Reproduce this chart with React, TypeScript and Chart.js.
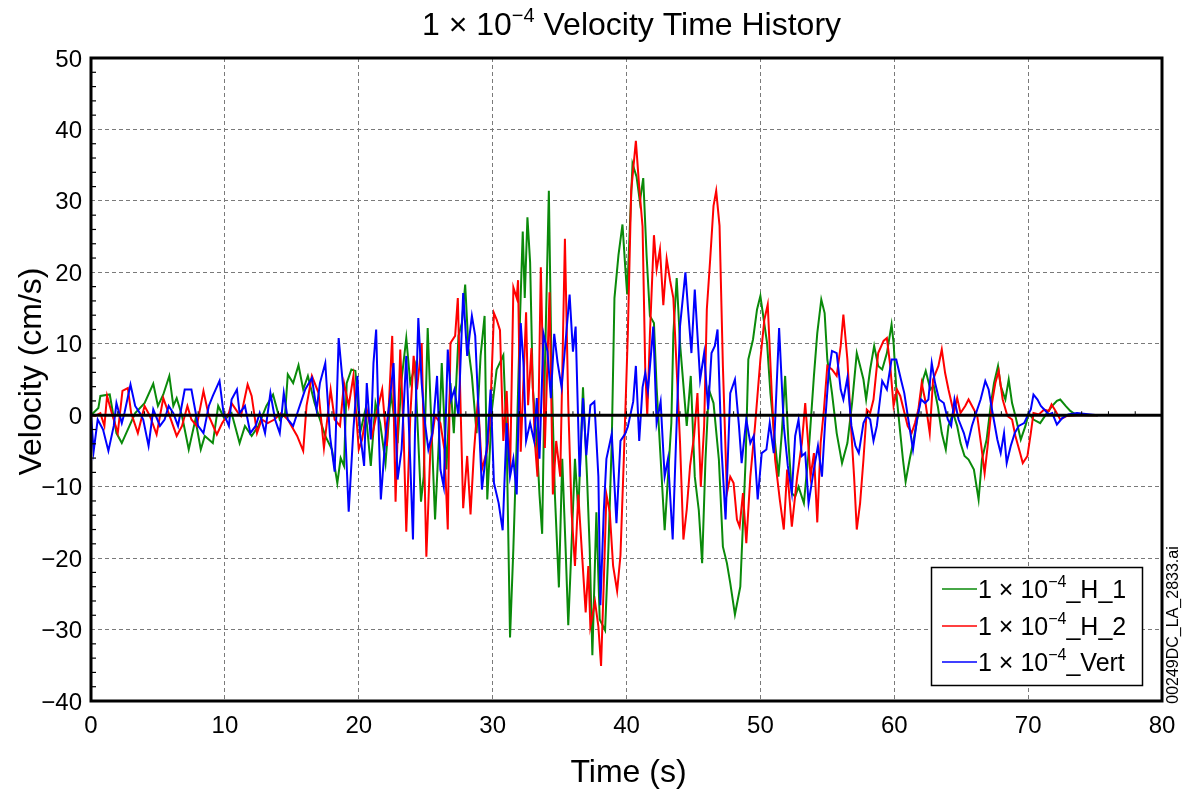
import React, { useEffect, useRef } from "react";
import { Chart, registerables } from "chart.js";

Chart.register(...registerables);

// ---- Data (time in s, velocity in cm/s) ----
const xTicks = [0, 10, 20, 30, 40, 50, 60, 70, 80];
const yTicks = [-40, -30, -20, -10, 0, 10, 20, 30, 40, 50];
const seriesNames = ["_H_1", "_H_2", "_Vert"];

const h1Points: [number, number][] = [
  [0,0],[0.55,1.0],[0.7,2.7],[1.4,2.9],[1.9,-2.5],[2.3,-3.9],[3.3,0.3],[4.0,1.7],[4.65,4.4],[5.0,1.3],[5.4,2.9],[5.85,5.5],[6.15,1.3],[6.4,2.4],[6.8,-0.1],[7.3,-4.8],[7.8,-0.6],[8.2,-4.8],[8.5,-2.9],[9.1,-3.9],[9.5,1.3],[10.0,-0.6],[10.5,0.3],[11.1,-3.9],[11.5,-1.5],[12.0,-2.9],[12.5,-1.5],[13.1,1.3],[13.6,2.9],[14.1,-0.6],[14.5,0.3],[14.7,5.7],[15.1,4.5],[15.5,7.0],[15.85,3.6],[16.2,5.5],[16.7,1.7],[17.1,-0.6],[17.5,-2.9],[18.0,-4.8],[18.4,-9.5],[18.65,-6.0],[18.9,-7.1],[19.1,4.5],[19.45,6.4],[19.75,6.2],[20.1,-2.5],[20.5,0.8],[20.9,-7.1],[21.25,1.7],[21.6,-1.1],[22.0,-6.7],[22.4,3.1],[22.9,-3.9],[23.2,5.0],[23.55,10.8],[23.85,4.5],[24.2,6.9],[24.65,-12.1],[24.85,-8.6],[25.15,12.2],[25.35,2.2],[25.7,-14.6],[26.0,-2.9],[26.2,7.3],[26.55,-7.6],[26.85,4.5],[27.1,-2.5],[27.45,11.1],[27.7,12.9],[27.95,18.3],[28.2,9.2],[28.45,5.5],[28.8,-2.5],[29.1,8.3],[29.4,13.9],[29.6,-11.8],[29.95,0.8],[30.3,6.4],[30.55,7.4],[30.8,8.4],[31.05,-3.6],[31.3,-31.1],[31.55,-18.6],[31.8,-3.6],[32.05,13.9],[32.25,25.7],[32.4,16.4],[32.6,27.7],[32.8,21.4],[33.0,3.9],[33.3,-3.6],[33.5,-11.1],[33.7,-16.6],[33.9,6.4],[34.2,31.4],[34.4,6.4],[34.65,-11.1],[34.95,-24.1],[35.2,-6.1],[35.45,-18.6],[35.65,-29.4],[35.8,-22.6],[36.15,-6.1],[36.4,-13.6],[36.75,3.9],[37.05,-8.6],[37.25,-18.6],[37.45,-33.6],[37.75,-13.6],[38.0,-28.6],[38.4,-30.1],[38.65,-18.6],[38.9,-3.6],[39.1,16.4],[39.4,22.4],[39.7,26.7],[39.9,20.9],[40.05,16.9],[40.25,26.4],[40.45,35.2],[40.75,33.4],[41.0,29.9],[41.25,33.2],[41.5,22.4],[41.75,13.9],[42.05,12.9],[42.25,3.9],[42.55,-6.1],[42.85,-16.1],[43.1,-8.6],[43.35,-1.1],[43.5,11.4],[43.75,19.2],[44.0,10.0],[44.3,3.1],[44.5,-1.5],[44.8,5.5],[45.1,-8.6],[45.4,-13.3],[45.65,-20.7],[45.9,-6.2],[46.15,3.6],[46.5,1.7],[46.9,-6.2],[47.2,-18.4],[47.5,-20.7],[47.75,-23.5],[48.1,-27.9],[48.5,-24.0],[48.9,-6.2],[49.1,7.8],[49.45,10.6],[49.75,14.8],[50.0,16.7],[50.25,13.4],[50.5,10.1],[50.75,3.1],[51.1,-3.9],[51.35,-8.6],[51.6,-2.5],[51.85,5.5],[52.1,-3.9],[52.35,-10.9],[52.6,-11.4],[52.85,-10.0],[53.25,-12.3],[53.6,-5.3],[54.0,5.5],[54.25,11.5],[54.55,16.2],[54.8,14.3],[55.0,7.8],[55.35,3.1],[55.7,-2.5],[56.1,-6.7],[56.5,-3.9],[56.85,1.7],[57.2,8.7],[57.45,6.9],[57.7,5.0],[57.9,2.2],[58.2,6.4],[58.5,9.7],[58.8,6.9],[59.1,6.4],[59.45,8.7],[59.8,12.7],[59.95,10.1],[60.2,2.2],[60.45,-2.5],[60.65,-6.2],[60.85,-9.3],[61.15,-6.2],[61.45,-3.4],[61.8,0.3],[62.15,5.0],[62.35,6.2],[62.7,3.6],[62.95,4.1],[63.25,1.3],[63.55,-2.5],[63.85,-4.8],[64.05,-1.5],[64.4,0.3],[64.7,-1.5],[64.95,-3.9],[65.25,-5.7],[65.55,-6.2],[65.95,-7.6],[66.15,-10.0],[66.3,-11.8],[66.55,-6.2],[66.9,-3.4],[67.2,1.3],[67.45,4.5],[67.75,6.9],[67.95,4.1],[68.3,2.2],[68.55,5.0],[68.8,1.7],[69.05,-0.1],[69.45,-3.4],[69.8,-1.5],[70.05,0.3],[70.4,-0.6],[70.9,-1.1],[71.4,0.3],[71.8,1.3],[72.15,2.0],[72.4,2.2],[72.8,1.3],[73.15,0.6],[73.55,0.1],[74.4,0],[75.2,0]
];

const h2Points: [number, number][] = [
  [0,0],[0.3,-0.1],[0.7,0.3],[1.0,-1.5],[1.2,2.7],[1.55,0.3],[2.0,-2.5],[2.35,3.4],[2.75,3.8],[3.0,0.3],[3.5,-2.5],[4.0,1.3],[4.4,-0.1],[4.9,-2.7],[5.4,2.4],[5.8,0.3],[6.4,-2.9],[6.8,-1.5],[7.2,1.3],[7.5,-0.6],[7.9,-1.5],[8.4,3.4],[8.8,-0.1],[9.4,-2.7],[9.8,-1.1],[10.3,0.3],[10.5,1.7],[11.0,0.3],[11.2,-0.1],[11.7,4.3],[12.0,2.7],[12.4,-2.5],[12.75,-0.6],[13.2,-1.1],[13.7,-0.6],[14.2,0.3],[14.7,-0.6],[15.4,-2.9],[15.85,-5.0],[16.1,1.3],[16.5,5.5],[17.0,3.1],[17.4,-4.6],[17.9,3.6],[18.2,-0.6],[18.6,-1.5],[18.9,4.5],[19.25,1.3],[19.6,5.5],[20.0,-4.8],[20.25,-3.4],[20.6,0.8],[21.0,-2.9],[21.4,0.8],[21.75,3.6],[22.1,-4.3],[22.5,11.1],[22.75,-12.1],[23.1,9.2],[23.35,-2.5],[23.55,-16.3],[23.85,-0.1],[24.1,8.3],[24.35,3.6],[24.7,10.1],[25.05,-19.8],[25.35,-4.8],[25.7,-0.1],[26.1,-1.1],[26.4,-4.8],[26.65,-16.0],[26.85,10.1],[27.2,11.1],[27.4,16.4],[27.7,-5.7],[27.8,-13.0],[28.1,-5.7],[28.35,-13.9],[28.6,-5.3],[28.9,2.2],[29.2,-7.6],[29.6,-4.8],[29.8,-0.6],[30.1,14.3],[30.3,13.4],[30.55,11.9],[30.8,-3.6],[31.05,3.4],[31.3,-8.6],[31.55,17.9],[31.8,16.4],[31.9,18.9],[32.1,-5.1],[32.5,14.4],[32.65,1.4],[32.9,9.4],[33.15,-3.6],[33.35,-8.6],[33.6,20.7],[33.9,-4.6],[34.25,17.2],[34.5,-11.1],[34.75,-3.6],[35.05,-8.6],[35.4,24.7],[35.65,1.4],[35.9,-13.6],[36.15,-21.1],[36.4,-11.1],[36.65,-18.6],[36.95,-27.6],[37.15,-21.1],[37.3,-29.6],[37.65,-26.1],[37.9,-29.6],[38.1,-35.1],[38.3,-23.6],[38.5,-11.1],[38.75,-13.6],[39.0,-21.1],[39.3,-24.6],[39.55,-19.6],[39.8,-6.1],[40.1,11.4],[40.35,31.4],[40.7,38.4],[40.95,31.9],[41.2,26.4],[41.4,6.4],[41.55,-0.1],[41.75,11.4],[42.05,25.2],[42.25,20.4],[42.5,23.2],[42.75,15.4],[43.0,21.9],[43.25,18.9],[43.5,16.4],[43.75,6.4],[44.0,-3.9],[44.25,-17.4],[44.5,-13.2],[44.75,-7.1],[45.05,-2.9],[45.3,3.1],[45.55,-10.0],[45.8,-1.5],[46.0,14.8],[46.25,21.8],[46.5,29.3],[46.7,31.4],[46.95,26.5],[47.2,6.9],[47.5,-10.9],[47.75,-8.6],[48.0,-9.5],[48.25,-14.6],[48.45,-15.6],[48.7,-10.9],[48.95,-17.9],[49.25,-8.6],[49.6,-1.5],[50.0,7.8],[50.3,13.4],[50.55,15.5],[50.85,3.1],[51.1,-6.2],[51.45,-11.8],[51.75,-16.0],[52.0,-7.6],[52.35,-15.6],[52.75,-8.6],[53.1,-3.9],[53.35,1.7],[53.75,-8.6],[54.0,-5.3],[54.25,-15.0],[54.5,-3.9],[54.75,0.8],[55.0,6.9],[55.35,6.4],[55.7,5.5],[56.0,9.7],[56.2,14.1],[56.5,7.8],[56.8,-2.5],[57.0,-8.6],[57.2,-16.0],[57.45,-12.3],[57.7,-6.2],[57.95,0.8],[58.2,0.3],[58.45,2.2],[58.8,8.7],[59.2,10.4],[59.45,10.8],[59.7,6.9],[59.95,1.3],[60.2,3.6],[60.45,2.7],[60.7,0.8],[61.0,-1.5],[61.3,-2.5],[61.55,-1.1],[61.8,0.8],[62.05,4.5],[62.3,2.2],[62.65,-2.5],[62.9,5.0],[63.3,6.9],[63.55,9.2],[63.8,5.9],[64.05,3.6],[64.45,0.3],[64.7,2.4],[64.95,0.3],[65.3,1.3],[65.55,2.2],[65.95,0.8],[66.2,-0.1],[66.5,-4.3],[66.75,-8.1],[67.0,-3.9],[67.3,1.7],[67.55,4.5],[67.8,6.2],[68.1,2.2],[68.45,-0.1],[68.8,-0.6],[69.05,-2.9],[69.4,-5.3],[69.6,-6.7],[69.95,-5.7],[70.2,-2.5],[70.4,0.3],[70.8,0.1],[71.2,0.8],[71.55,0.6],[71.75,1.5],[72.05,0.6],[72.4,-0.6],[72.9,-0.1],[73.65,0],[75.2,0]
];

const vertPoints: [number, number][] = [
  [0,0],[0.2,-5.0],[0.5,-0.6],[0.9,-2.0],[1.3,-5.0],[1.7,-1.5],[1.9,1.7],[2.3,-1.1],[2.5,0.3],[2.95,4.3],[3.3,1.3],[3.65,0.3],[3.9,-0.6],[4.3,-4.3],[4.65,0.8],[5.15,-1.5],[5.5,-0.6],[5.8,1.3],[6.15,0.3],[6.5,-1.5],[7.0,3.6],[7.5,3.6],[8.0,-1.5],[8.4,-2.5],[8.8,1.3],[9.1,2.7],[9.6,4.8],[9.9,0.3],[10.3,-1.5],[10.5,2.2],[10.9,3.6],[11.1,0.3],[11.5,1.3],[11.9,-2.5],[12.3,-1.5],[12.6,0.3],[13.0,-2.5],[13.4,3.1],[13.75,-0.6],[14.1,-2.5],[14.4,3.1],[14.7,-0.6],[15.1,-1.5],[15.5,0.8],[16.0,3.6],[16.5,5.2],[16.85,0.8],[17.1,4.5],[17.5,7.3],[17.85,-2.9],[18.2,-7.9],[18.5,10.8],[18.85,3.6],[19.25,-13.5],[19.6,-2.0],[19.9,5.5],[20.1,-2.5],[20.4,-7.1],[20.6,4.5],[20.9,-3.4],[21.1,7.3],[21.3,12.0],[21.5,-2.5],[21.65,-11.8],[22.0,-2.9],[22.4,3.6],[22.6,7.3],[22.9,-9.0],[23.2,-4.8],[23.55,8.3],[23.85,-6.7],[24.05,-17.4],[24.2,-2.5],[24.45,13.6],[24.7,4.5],[24.95,-1.1],[25.2,-4.8],[25.5,-2.5],[25.85,5.5],[26.1,-7.6],[26.35,-10.0],[26.65,9.2],[26.9,2.2],[27.15,3.6],[27.45,-0.1],[27.8,17.1],[28.1,8.3],[28.45,13.9],[28.7,11.1],[28.95,0.3],[29.2,-10.4],[29.6,-3.9],[29.85,3.6],[30.1,-9.5],[30.45,-12.3],[30.75,-16.1],[31.05,-1.1],[31.3,-8.6],[31.55,-6.1],[31.8,-11.1],[32.1,12.9],[32.3,7.4],[32.5,-3.6],[32.8,-1.1],[33.1,-3.6],[33.3,2.4],[33.5,-6.1],[33.8,11.4],[34.1,8.9],[34.35,2.4],[34.6,11.4],[34.85,7.4],[35.15,3.9],[35.5,11.4],[35.75,16.9],[36.0,8.9],[36.2,12.4],[36.5,-8.6],[36.75,2.4],[37.0,-5.6],[37.3,1.4],[37.6,1.9],[37.9,-8.6],[38.05,-26.6],[38.3,-13.6],[38.5,-6.1],[38.9,-2.6],[39.25,-15.1],[39.55,-3.6],[39.9,-2.6],[40.1,-1.6],[40.5,1.9],[40.7,6.9],[40.95,-3.6],[41.2,3.9],[41.4,5.9],[41.6,3.4],[42.0,12.4],[42.25,-1.1],[42.55,1.9],[42.85,-8.6],[43.1,-6.1],[43.45,-17.4],[43.7,-3.6],[44.0,12.5],[44.4,20.0],[44.6,14.8],[44.85,8.7],[45.1,17.6],[45.5,5.0],[45.8,8.7],[46.1,0.8],[46.35,8.7],[46.6,9.7],[46.8,12.0],[47.1,-4.8],[47.4,-14.6],[47.75,3.1],[48.1,5.0],[48.4,-1.5],[48.6,-6.7],[48.95,-0.6],[49.25,-3.9],[49.5,-2.9],[49.8,-11.8],[50.1,-5.3],[50.45,-4.8],[50.7,-1.1],[51.0,-5.3],[51.4,12.2],[51.75,-1.5],[52.05,-7.1],[52.35,-10.9],[52.6,-2.9],[52.85,-0.6],[53.1,-5.7],[53.35,-5.3],[53.6,-12.3],[53.95,-8.1],[54.3,-4.3],[54.6,-8.6],[54.85,-0.6],[55.1,5.9],[55.35,9.0],[55.7,8.7],[56.0,3.6],[56.2,2.2],[56.5,5.2],[56.8,-1.5],[57.1,-4.3],[57.35,-5.3],[57.7,-1.1],[57.95,-0.1],[58.2,-0.6],[58.45,-3.6],[58.7,-1.5],[59.1,4.8],[59.45,3.6],[59.8,7.8],[60.15,7.8],[60.5,5.0],[60.75,3.1],[61.05,-0.6],[61.4,-4.8],[61.7,-0.6],[62.0,2.2],[62.3,1.7],[62.55,2.2],[62.8,7.3],[63.05,4.5],[63.35,2.2],[63.7,1.7],[64.0,-0.6],[64.25,-1.5],[64.5,2.2],[64.8,-0.6],[65.2,-2.5],[65.45,-4.3],[65.8,-1.5],[66.2,0.8],[66.45,2.2],[66.8,4.8],[67.05,3.6],[67.3,0.8],[67.7,-3.4],[67.95,-5.3],[68.2,-2.5],[68.4,-6.7],[68.7,-4.3],[69.0,-2.5],[69.3,-1.5],[69.7,-1.1],[69.95,-0.1],[70.2,0.8],[70.4,2.9],[70.7,2.2],[70.95,1.3],[71.2,0.8],[71.55,0.1],[71.8,0.3],[72.15,-1.3],[72.55,-0.4],[73.0,0.1],[73.65,0.3],[74.65,0.1],[75.2,0]
];

const FONT = "'Liberation Sans', Arial, Helvetica, sans-serif";
const COLORS = ["#0a8a0a", "#ff0000", "#0000ff"];

function drawSupText(
  ctx: CanvasRenderingContext2D,
  parts: { t: string; size: number; dy: number }[],
  x: number,
  y: number,
  align: "left" | "center"
) {
  let total = 0;
  const widths = parts.map((p) => {
    ctx.font = `${p.size}px ${FONT}`;
    const w = ctx.measureText(p.t).width;
    total += w;
    return w;
  });
  let cx = align === "center" ? x - total / 2 : x;
  ctx.textAlign = "left";
  ctx.textBaseline = "alphabetic";
  parts.forEach((p, i) => {
    ctx.font = `${p.size}px ${FONT}`;
    ctx.fillText(p.t, cx, y + p.dy);
    cx += widths[i];
  });
}

const decorPlugin = {
  id: "decor",
  afterDatasetsDraw(chart: any) {
    const { ctx, chartArea, scales } = chart;
    const { left, right, top, bottom } = chartArea;
    const xs = scales.x;
    const ys = scales.y;
    ctx.save();
    // zero line
    const y0 = ys.getPixelForValue(0);
    ctx.strokeStyle = "#000";
    ctx.lineWidth = 3;
    ctx.beginPath();
    ctx.moveTo(left, y0);
    ctx.lineTo(right, y0);
    ctx.stroke();
    // minor ticks on zero line
    ctx.lineWidth = 1;
    for (let t = 2; t < 80; t += 2) {
      const px = xs.getPixelForValue(t);
      ctx.beginPath();
      ctx.moveTo(px, y0);
      ctx.lineTo(px, y0 - 4);
      ctx.stroke();
    }
    // minor ticks on left axis
    ctx.lineWidth = 1.2;
    for (let v = -38; v < 50; v += 2) {
      if (v % 10 === 0) continue;
      const py = ys.getPixelForValue(v);
      ctx.beginPath();
      ctx.moveTo(left, py);
      ctx.lineTo(left + 5, py);
      ctx.stroke();
    }
    // frame
    ctx.lineWidth = 3;
    ctx.strokeRect(left, top, right - left, bottom - top);
    ctx.restore();
  },
  afterDraw(chart: any) {
    const { ctx, chartArea, scales } = chart;
    const xs = scales.x;
    const ys = scales.y;
    ctx.save();
    ctx.fillStyle = "#000";
    // title
    drawSupText(
      ctx,
      [
        { t: "1 × 10", size: 32, dy: 0 },
        { t: "−4", size: 20, dy: -13 },
        { t: " Velocity Time History", size: 32, dy: 0 },
      ],
      (chartArea.left + chartArea.right) / 2 + 5,
      35,
      "center"
    );
    // y tick labels
    ctx.font = `24px ${FONT}`;
    ctx.textAlign = "right";
    ctx.textBaseline = "alphabetic";
    yTicks.forEach((v) => {
      const py = ys.getPixelForValue(v);
      ctx.fillText(String(v).replace("-", "−"), 82, py + 8.5);
    });
    // x tick labels
    ctx.textAlign = "center";
    xTicks.forEach((t) => {
      const px = xs.getPixelForValue(t);
      ctx.fillText(String(t), px, 733);
    });
    // axis titles
    ctx.font = `32px ${FONT}`;
    ctx.textAlign = "center";
    ctx.fillText("Time (s)", (chartArea.left + chartArea.right) / 2 + 2, 782);
    ctx.save();
    ctx.translate(41, (chartArea.top + chartArea.bottom) / 2 - 8);
    ctx.rotate(-Math.PI / 2);
    ctx.textBaseline = "alphabetic";
    ctx.fillText("Velocity (cm/s)", 0, 0);
    ctx.restore();
    // side file label
    ctx.save();
    ctx.translate(1178, 625);
    ctx.rotate(-Math.PI / 2);
    ctx.font = `16px ${FONT}`;
    ctx.textAlign = "center";
    ctx.textBaseline = "alphabetic";
    ctx.fillText("00249DC_LA_2833.ai", 0, 0);
    ctx.restore();
    // legend
    const lx = 931, ly = 567, lw = 211, lh = 118;
    ctx.fillStyle = "#fff";
    ctx.fillRect(lx, ly, lw, lh);
    ctx.strokeStyle = "#000";
    ctx.lineWidth = 1.5;
    ctx.strokeRect(lx + 0.5, ly + 0.5, lw, lh);
    const rows = [589, 626, 662];
    seriesNames.forEach((name, i) => {
      ctx.strokeStyle = COLORS[i];
      ctx.lineWidth = 1.5;
      ctx.beginPath();
      ctx.moveTo(942, rows[i]);
      ctx.lineTo(977, rows[i]);
      ctx.stroke();
      ctx.fillStyle = "#000";
      drawSupText(
        ctx,
        [
          { t: "1 × 10", size: 25, dy: 0 },
          { t: "−4", size: 16, dy: -11 },
          { t: name, size: 25, dy: 0 },
        ],
        978,
        rows[i] + 9,
        "left"
      );
    });
    ctx.restore();
  },
};

export default function App() {
  const canvasRef = useRef<HTMLCanvasElement | null>(null);

  useEffect(() => {
    const canvas = canvasRef.current;
    if (!canvas) return;
    const toXY = (pts: [number, number][]) => pts.map(([x, y]) => ({ x, y }));
    const chart = new Chart(canvas, {
      type: "line",
      data: {
        datasets: [
          { label: "H_1", data: toXY(h1Points), borderColor: COLORS[0], order: 3 },
          { label: "H_2", data: toXY(h2Points), borderColor: COLORS[1], order: 2 },
          { label: "Vert", data: toXY(vertPoints), borderColor: COLORS[2], order: 1 },
        ],
      },
      options: {
        animation: false,
        responsive: false,
        devicePixelRatio: 1,
        parsing: false,
        layout: { padding: { top: 58, right: 21, left: 0, bottom: 0 } },
        plugins: {
          legend: { display: false },
          title: { display: false },
          tooltip: { enabled: false },
        },
        elements: {
          point: { radius: 0 },
          line: { borderWidth: 2, tension: 0, fill: false },
        },
        scales: {
          x: {
            type: "linear",
            min: 0,
            max: 80,
            ticks: { display: false, stepSize: 10 },
            grid: { color: "#7a7a7a", lineWidth: 1, drawTicks: false },
            border: { display: false, dash: [4, 3] },
            afterFit: (s: any) => {
              s.height = 89;
            },
          },
          y: {
            type: "linear",
            min: -40,
            max: 50,
            ticks: { display: false, stepSize: 10 },
            grid: { color: "#7a7a7a", lineWidth: 1, drawTicks: false },
            border: { display: false, dash: [4, 3] },
            afterFit: (s: any) => {
              s.width = 91;
            },
          },
        },
      } as any,
      plugins: [decorPlugin],
    });
    return () => chart.destroy();
  }, []);

  return (
    <div style={{ position: "absolute", left: 0, top: 0, width: 1183, height: 790, background: "#fff" }}>
      <canvas ref={canvasRef} width={1183} height={790} style={{ display: "block" }} />
    </div>
  );
}
